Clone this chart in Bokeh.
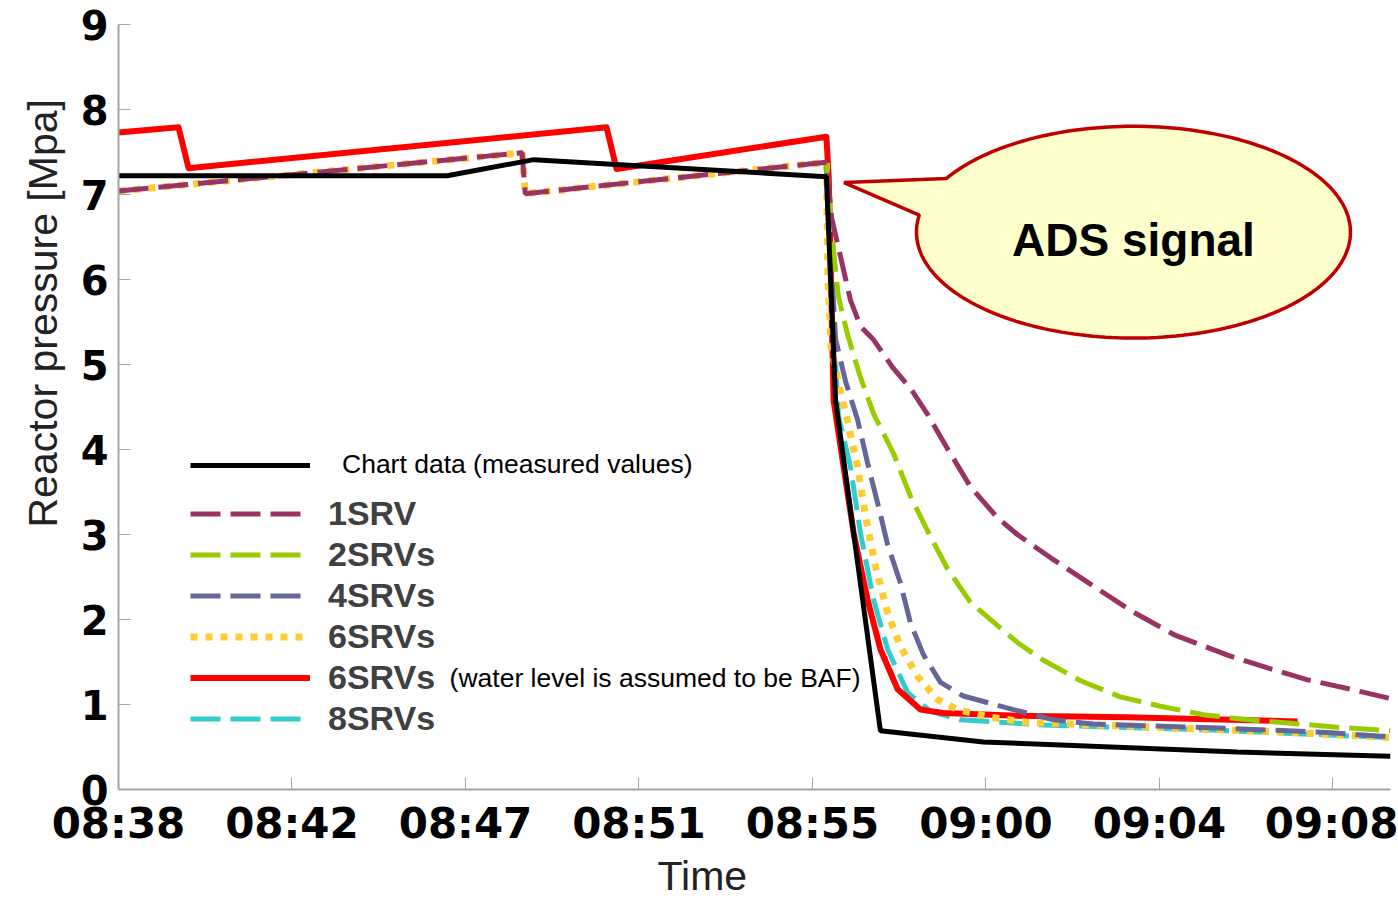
import numpy as np
from bokeh.plotting import figure
from bokeh.models import Range1d, FixedTicker, Label, Legend, LegendItem, Title
from bokeh.embed import file_html
from bokeh.resources import INLINE

# ---------------- data (time in minutes after 08:38, pressure in MPa) ----------------
tick_minutes = [0.0, 4.333, 8.667, 13.0, 17.333, 21.667, 26.0, 30.333]
tick_labels = ["08:38", "08:42", "08:47", "08:51", "08:55", "09:00", "09:04", "09:08"]

measured_t = [0.0, 8.21, 10.37, 17.68, 17.91, 19.03, 21.60, 27.95, 31.77]
measured_p = [7.22, 7.22, 7.41, 7.21, 4.58, 0.69, 0.56, 0.44, 0.39]

pre_ads_t = [0.0, 10.08, 10.16, 17.68]
pre_ads_p = [7.04, 7.49, 7.01, 7.38]

srv1_t = [17.81, 18.28, 18.53, 18.86, 19.33, 19.81, 20.20, 20.68, 21.28,
          21.95, 22.45, 23.30, 24.23, 25.30, 26.37, 27.70, 28.70, 29.70, 30.77, 31.77]
srv1_p = [6.73, 5.76, 5.45, 5.29, 4.97, 4.70, 4.42, 4.03, 3.56,
          3.20, 3.00, 2.72, 2.43, 2.10, 1.82, 1.58, 1.43, 1.29, 1.18, 1.07]

srv2_t = [17.68, 17.86, 17.98, 18.21, 18.53, 18.86, 19.36, 19.78, 20.20, 20.70, 21.28,
          21.95, 22.45, 23.10, 24.03, 25.02, 26.02, 27.10, 28.20, 29.27, 30.50, 31.77]
srv2_p = [7.38, 6.33, 5.80, 5.35, 4.85, 4.42, 3.95, 3.45, 3.05, 2.60, 2.20,
          1.93, 1.73, 1.52, 1.28, 1.09, 0.98, 0.88, 0.82, 0.78, 0.73, 0.69]

srv4_t = [17.68, 17.75, 17.91, 18.16, 18.46, 18.71, 18.96, 19.21, 19.53, 19.78, 20.10,
          20.53, 21.10, 22.35, 23.35, 24.35, 27.70, 30.20, 31.77]
srv4_p = [7.38, 6.60, 5.30, 4.80, 4.35, 3.84, 3.37, 2.88, 2.43, 1.96, 1.59,
          1.26, 1.10, 0.94, 0.82, 0.77, 0.72, 0.67, 0.62]

srv6_t = [17.72, 17.80, 18.00, 18.20, 18.46, 18.66, 18.91, 19.21, 19.53, 19.96, 20.45,
          20.95, 21.78, 22.70, 26.02, 29.35, 31.77]
srv6_p = [6.00, 5.20, 4.75, 4.35, 3.80, 3.21, 2.62, 2.08, 1.68, 1.33, 1.06,
          0.94, 0.85, 0.79, 0.73, 0.67, 0.61]

srv6baf_t = [0.0, 1.50, 1.75, 12.19, 12.44, 17.68, 17.74, 17.86, 18.11, 18.36, 18.71,
             19.03, 19.46, 20.03, 20.60, 22.28, 25.20, 29.45]
srv6baf_p = [7.73, 7.79, 7.31, 7.79, 7.30, 7.68, 7.20, 4.58, 3.80, 3.02, 2.23,
             1.65, 1.18, 0.94, 0.90, 0.87, 0.85, 0.80]

srv8_t = [17.68, 17.75, 17.98, 18.28, 18.53, 18.86, 19.21, 19.71, 20.28, 21.03, 23.10,
          27.27, 31.77]
srv8_p = [7.38, 6.50, 4.40, 3.80, 3.02, 2.23, 1.65, 1.14, 0.92, 0.82, 0.76,
          0.70, 0.61]

# ---------------- figure ----------------
p = figure(width=1398, height=898, output_backend="svg", toolbar_location=None,
           x_range=Range1d(0, 31.77), y_range=Range1d(0, 9),
           min_border_left=118, min_border_right=8, min_border_top=24, min_border_bottom=108)
p.outline_line_color = None
p.grid.visible = False
p.background_fill_color = "white"
p.border_fill_color = "white"

AX = "#a6a6a6"
for ax in (p.xaxis[0], p.yaxis[0]):
    ax.axis_line_color = AX
    ax.axis_line_width = 2
    ax.major_tick_line_color = AX
    ax.major_tick_line_width = 1
    ax.major_tick_in = 12
    ax.major_tick_out = 0
    ax.minor_tick_line_color = None
    ax.major_label_text_font = "DejaVu Sans"
    ax.major_label_text_font_style = "bold"
    ax.major_label_text_color = "black"

p.xaxis.ticker = FixedTicker(ticks=tick_minutes)
p.xaxis.major_label_overrides = {t: l for t, l in zip(tick_minutes, tick_labels)}
p.xaxis.major_label_text_font_size = "42px"
p.xaxis.major_label_standoff = 9

p.yaxis.ticker = FixedTicker(ticks=list(range(0, 10)))
p.yaxis.major_label_text_font_size = "40px"
p.yaxis.major_label_standoff = 10

# axis titles (placed off-centre like the original)
t_x = Title(text="Time", align="left", offset=539, standoff=0,
            text_font="Liberation Sans", text_font_size="41px",
            text_font_style="normal", text_color="#222222")
p.add_layout(t_x, "below")
t_y = Title(text="Reactor pressure [Mpa]", align="left", offset=262, standoff=20,
            vertical_align="top",
            text_font="Liberation Sans", text_font_size="41px",
            text_font_style="normal", text_color="#222222")
p.add_layout(t_y, "left")

DASH = "30 10"
r8 = p.line(srv8_t, srv8_p, line_color="#33cccc", line_width=5, line_dash=DASH)
rbaf = p.line(srv6baf_t, srv6baf_p, line_color="#ff0000", line_width=6, line_join="round")
r6 = p.line(pre_ads_t + srv6_t, pre_ads_p + srv6_p, line_color="#ffcc33", line_width=7,
            line_dash="7 8")
r4 = p.line(srv4_t, srv4_p, line_color="#666699", line_width=5, line_dash=DASH)
r2 = p.line(srv2_t, srv2_p, line_color="#99cc00", line_width=5, line_dash=DASH)
r1 = p.line(pre_ads_t + srv1_t, pre_ads_p + srv1_p, line_color="#993366", line_width=5,
            line_dash=DASH)
rm = p.line(measured_t, measured_p, line_color="black", line_width=5)

# ---------------- callout "ADS signal" ----------------
cx, cy, rx, ry = 25.35, 6.557, 5.42, 1.246
tip = (18.12, 7.14)
ang = np.radians(np.linspace(170.7, 509.5, 200))
bx = list(cx + rx * np.cos(ang)) + [tip[0]]
by = list(cy + ry * np.sin(ang)) + [tip[1]]
p.patch(bx, by, fill_color="#ffffcc", line_color="#c00000", line_width=3.5)
p.add_layout(Label(x=cx, y=6.46, text="ADS signal", text_font="Liberation Sans",
                   text_font_style="bold", text_font_size="46px", text_align="center",
                   text_baseline="middle", text_color="black"))

# ---------------- legends ----------------
leg1 = Legend(items=[LegendItem(label="Chart data (measured values)", renderers=[rm])],
              location=(72, 309), orientation="vertical")
leg1.label_text_font = "Liberation Sans"
leg1.label_text_font_size = "26.5px"
leg1.label_text_color = "black"
leg1.glyph_width = 120
leg1.glyph_height = 30
leg1.label_height = 30
leg1.label_standoff = 32
leg1.padding = 0
leg1.margin = 0
leg1.spacing = 0
leg1.border_line_color = None
leg1.background_fill_alpha = 0
p.add_layout(leg1)

leg2 = Legend(items=[LegendItem(label="1SRV", renderers=[r1]),
                     LegendItem(label="2SRVs", renderers=[r2]),
                     LegendItem(label="4SRVs", renderers=[r4]),
                     LegendItem(label="6SRVs", renderers=[r6]),
                     LegendItem(label="6SRVs", renderers=[rbaf]),
                     LegendItem(label="8SRVs", renderers=[r8])],
              location=(72, 50), orientation="vertical")
leg2.label_text_font = "Liberation Sans"
leg2.label_text_font_style = "bold"
leg2.label_text_font_size = "34px"
leg2.label_text_color = "#404040"
leg2.glyph_width = 120
leg2.glyph_height = 41
leg2.label_height = 41
leg2.label_standoff = 18
leg2.padding = 0
leg2.margin = 0
leg2.spacing = 0
leg2.border_line_color = None
leg2.background_fill_alpha = 0
p.add_layout(leg2)

p.add_layout(Label(x=8.27, y=1.316, text="(water level is assumed to be BAF)",
                   text_font="Liberation Sans", text_font_size="26.5px",
                   text_baseline="middle", text_color="black"))

open("out.html", "w").write(file_html(p, INLINE))
